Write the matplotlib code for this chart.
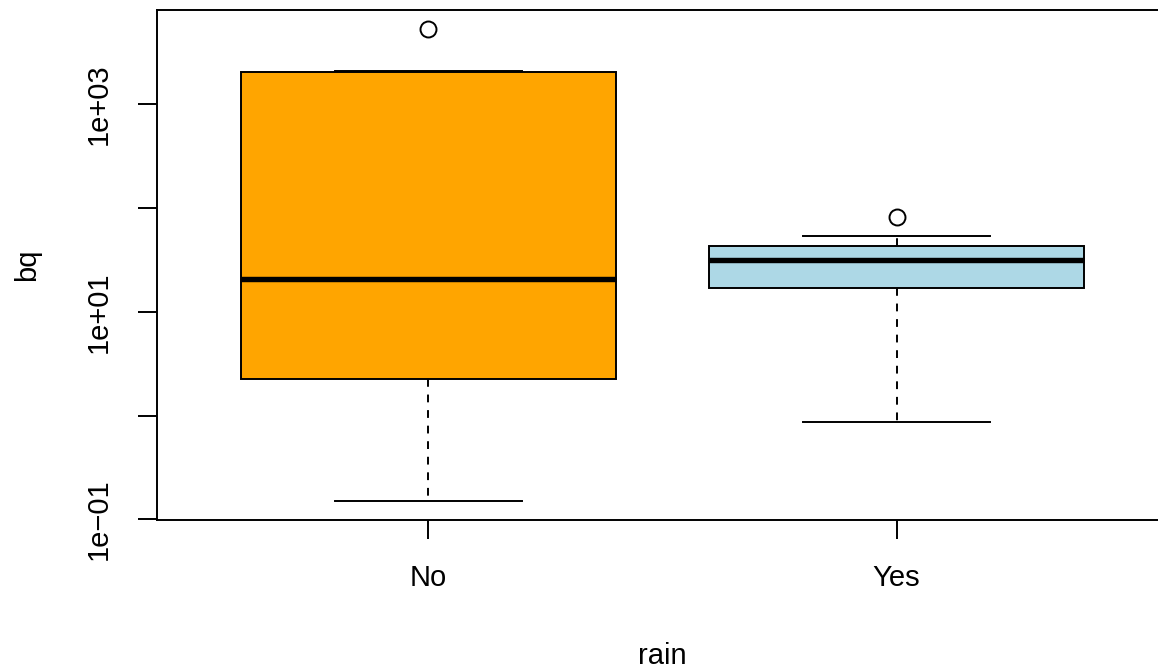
import matplotlib
matplotlib.use("Agg")
import matplotlib.pyplot as plt
import numpy as np
from matplotlib.ticker import FixedLocator, NullLocator

# values (log scale)
groups = ["No", "Yes"]
whislo = [0.151, 0.864]
q1 = [2.25, 16.8]
med = [20.8, 31.6]
q3 = [2030, 42.7]
whishi = [2110, 53.7]
fliers = [[5350], [82]]
box_colors = ["#FFA500", "#ADD8E6"]

ytick_vals = [0.1, 1, 10, 100, 1000]
ytick_labels = ["1e\u221201", "", "1e+01", "", "1e+03"]

plt.rcParams['font.family'] = ['Liberation Sans', 'DejaVu Sans']

fig = plt.figure(figsize=(11.58, 6.71), dpi=100)
# axes runs slightly past the right edge like the reference crop
ax = fig.add_axes([157/1158, (671-519.7)/671, (1168-157)/1158, 510/671])

stats = []
for i in range(len(groups)):
    stats.append(dict(label=groups[i], whislo=whislo[i], q1=q1[i], med=med[i],
                      q3=q3[i], whishi=whishi[i], fliers=fliers[i]))

lw = 1.4
bp = ax.bxp(stats, positions=[1, 2], widths=0.8, capwidths=0.4,
            patch_artist=True, manage_ticks=False,
            boxprops=dict(linewidth=lw, edgecolor="black"),
            medianprops=dict(linewidth=3.9, color="black", solid_capstyle="butt"),
            whiskerprops=dict(linewidth=lw, color="black", linestyle=(0, (4, 4))),
            capprops=dict(linewidth=lw, color="black"),
            flierprops=dict(marker="o", markersize=11.5, markerfacecolor="none",
                            markeredgecolor="black", markeredgewidth=lw))
for patch, c in zip(bp["boxes"], box_colors):
    patch.set_facecolor(c)

ax.set_yscale("log")
ax.set_ylim(10**-1.002, 10**3.91)
ax.set_xlim(0.42, 2.58)

ax.yaxis.set_major_locator(FixedLocator(ytick_vals))
ax.yaxis.set_minor_locator(NullLocator())
ax.set_yticklabels(ytick_labels, rotation=90, va="center")
ax.set_xticks([1, 2])
ax.set_xticklabels(groups)

ax.tick_params(axis="both", direction="out", length=13.7, width=lw,
               labelsize=21, pad=18)
for s in ax.spines.values():
    s.set_linewidth(lw)

ax.set_xlabel("rain", fontsize=21)
ax.set_ylabel("bq", fontsize=21)
ax.xaxis.set_label_coords(0.5, -0.268)
ax.xaxis.label.set_va("center")
ax.yaxis.set_label_coords(-0.1286, 0.5)
ax.yaxis.label.set_va("center")

fig.savefig("out.png", dpi=100)
